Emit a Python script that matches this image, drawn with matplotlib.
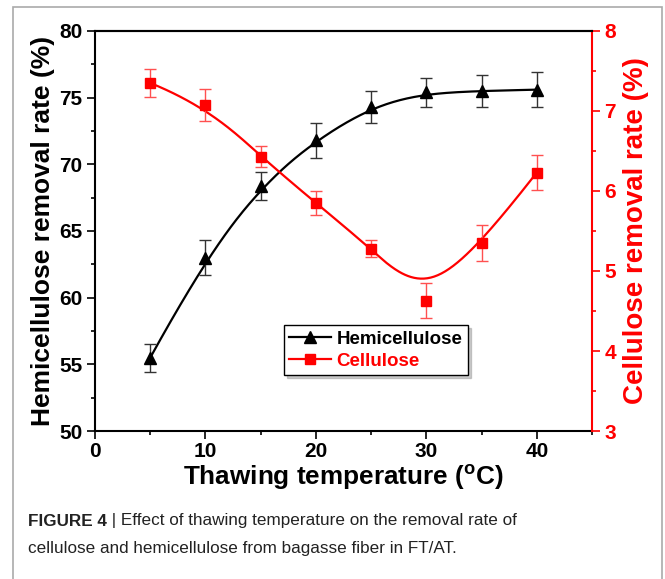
import numpy as np
import matplotlib
matplotlib.use('Agg')
import matplotlib.pyplot as plt
from matplotlib.lines import Line2D
from matplotlib.patches import Rectangle
from matplotlib.transforms import offset_copy

plt.rcParams['font.family'] = ['Liberation Sans', 'DejaVu Sans']
plt.rcParams['mathtext.fontset'] = 'custom'
plt.rcParams['mathtext.rm'] = 'Liberation Sans'
plt.rcParams['mathtext.bf'] = 'Liberation Sans:bold'

temps = [5, 10, 15, 20, 25, 30, 35, 40]
hemi = [55.5, 63.0, 68.4, 71.8, 74.3, 75.4, 75.5, 75.6]
hemi_err = [1.05, 1.3, 1.05, 1.3, 1.2, 1.1, 1.2, 1.3]
cell = [7.35, 7.07, 6.43, 5.85, 5.28, 4.63, 5.35, 6.23]
cell_err = [0.17, 0.2, 0.13, 0.15, 0.11, 0.22, 0.22, 0.22]


def bspline(px, py, n=300, k=3):
    # clamped cubic B-spline with the data points as control points (Origin style)
    px = np.asarray(px, float)
    py = np.asarray(py, float)
    m = len(px)
    knots = np.concatenate([[0] * k, np.arange(m - k + 1), [m - k] * k]).astype(float)
    t = np.linspace(0, m - k, n)
    t[-1] -= 1e-9
    B = np.zeros((n, len(knots) - 1))
    for i in range(len(knots) - 1):
        B[:, i] = (t >= knots[i]) & (t < knots[i + 1])
    for d in range(1, k + 1):
        Bn = np.zeros((n, len(knots) - 1 - d))
        for i in range(len(knots) - 1 - d):
            a = knots[i + d] - knots[i]
            b = knots[i + d + 1] - knots[i + 1]
            left = (t - knots[i]) / a * B[:, i] if a > 0 else 0
            right = (knots[i + d + 1] - t) / b * B[:, i + 1] if b > 0 else 0
            Bn[:, i] = left + right
        B = Bn
    return B @ px, B @ py


fig = plt.figure(figsize=(6.65, 5.79), dpi=100)
ax = fig.add_axes([0.1429, 0.2556, 0.7473, 0.6909])
ax2 = ax.twinx()

# hemicellulose (left axis)
hx, hy = bspline(temps, hemi)
ax.plot(hx, hy, color='black', lw=1.6, zorder=2)
ax.errorbar(temps, hemi, yerr=hemi_err, fmt='^', color='black', ms=8,
            ecolor='#333333', elinewidth=1, capsize=4, capthick=1, zorder=3)

# cellulose (right axis)
cx, cy = bspline(temps, cell)
ax2.plot(cx, cy, color='red', lw=1.6, zorder=2)
ax2.errorbar(temps, cell, yerr=cell_err, fmt='s', color='red', ms=7,
             ecolor='#ff5050', elinewidth=1, capsize=4, capthick=1, zorder=3)

ax.set_xlim(0, 45)
ax.set_ylim(50, 80)
ax2.set_ylim(3, 8)
ax.set_xticks([0, 10, 20, 30, 40])
ax.set_xticks([5, 15, 25, 35, 45], minor=True)
ax.set_yticks([50, 55, 60, 65, 70, 75, 80])
ax.set_yticks(np.arange(52.5, 80, 5), minor=True)
ax2.set_yticks([3, 4, 5, 6, 7, 8])
ax2.set_yticks(np.arange(3.5, 8, 1), minor=True)

tick_font = dict(weight='bold', size=15)
for lab in ax.get_xticklabels() + ax.get_yticklabels():
    lab.set(**tick_font)
for lab in ax2.get_yticklabels():
    lab.set(**tick_font)
    lab.set_color('red')

ax.tick_params(which='major', direction='out', length=6, width=1.2, pad=3)
ax.tick_params(which='minor', direction='out', length=3, width=1.2)
ax.tick_params(axis='x', pad=2)
ax2.tick_params(which='major', direction='out', length=6, width=1.2, color='red', pad=3)
ax2.tick_params(which='minor', direction='out', length=3, width=1.2, color='red')

for s in ['left', 'bottom', 'top']:
    ax.spines[s].set_linewidth(1.5)
ax.spines['right'].set_visible(False)
ax2.spines['left'].set_visible(False)
ax2.spines['bottom'].set_visible(False)
ax2.spines['top'].set_linewidth(1.5)
ax2.spines['right'].set_color('red')
ax2.spines['right'].set_linewidth(1.5)

ax.set_ylabel('Hemicellulose removal rate (%)', labelpad=3, weight='bold', size=19)
ax2.set_ylabel('Cellulose removal rate (%)', color='red', labelpad=5,
               weight='bold', size=20)
ax.set_xlabel(r'Thawing temperature ($\mathbf{^o}$C)', labelpad=1,
              weight='bold', size=18.8)

handles = [
    Line2D([], [], color='black', lw=1.6, marker='^', ms=8),
    Line2D([], [], color='red', lw=1.6, marker='s', ms=7),
]
leg = ax.legend(handles, ['Hemicellulose', 'Cellulose'], loc='upper left',
                bbox_to_anchor=(0.38, 0.265), frameon=True, fancybox=False,
                edgecolor='black', shadow={'color': '0.6', 'ox': 2, 'oy': -2},
                handlelength=2.2, handletextpad=0.3, borderpad=0.3,
                labelspacing=0.25, borderaxespad=0,
                prop=dict(weight='bold', size=13.5))
leg.get_frame().set_linewidth(1)
leg.get_texts()[1].set_color('red')

# panel frame
fig.add_artist(Rectangle((13 / 665, -0.1), 649 / 665, 1.1 - 7 / 579,
                         transform=fig.transFigure, fill=False,
                         edgecolor='#aaaaaa', lw=1.2))

cap_color = '#222222'
cap_size = 12.3
t1 = fig.text(28 / 665, 1 - 521 / 579, 'FIGURE 4', weight='bold',
              size=cap_size, va='center', color=cap_color)
fig.canvas.draw()
w = t1.get_window_extent().width
fig.text(28 / 665, 1 - 521 / 579,
         ' | Effect of thawing temperature on the removal rate of',
         size=cap_size, va='center', color=cap_color,
         transform=offset_copy(fig.transFigure, fig=fig, x=w, y=0, units='dots'))
fig.text(28 / 665, 1 - 549 / 579,
         'cellulose and hemicellulose from bagasse fiber in FT/AT.',
         size=cap_size, va='center', color=cap_color)

fig.savefig('out.png', dpi=100)
